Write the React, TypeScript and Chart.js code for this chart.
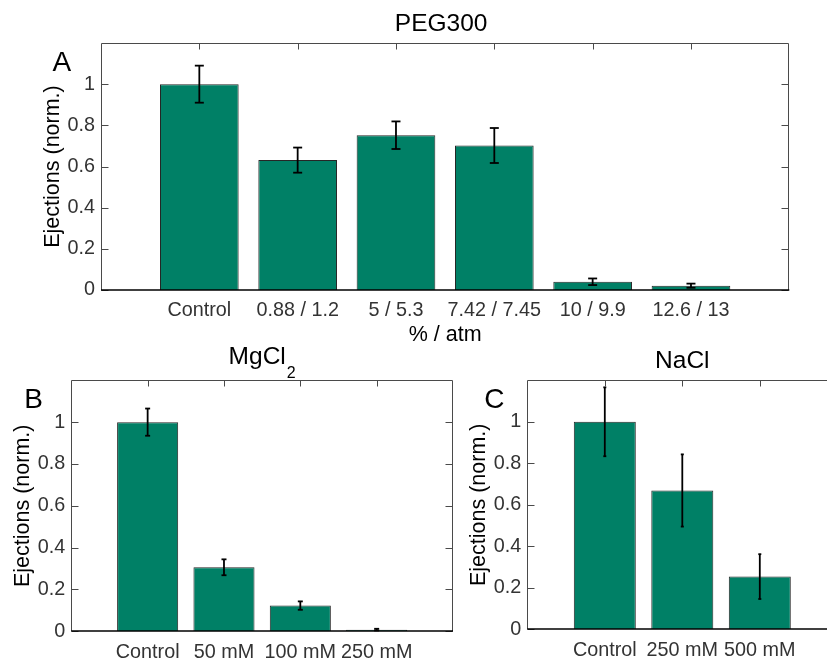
import React, { useEffect, useRef } from "react";
import { Chart, registerables } from "chart.js";

Chart.register(...registerables);

const FONT = "'Liberation Sans', Arial, Helvetica, sans-serif";
const BAR_COLOR = "#008066";
const TICK_COLOR = "#333333";

// ---- Panel A: PEG300 ----
const pegLabels = ["Control", "0.88 / 1.2", "5 / 5.3", "7.42 / 7.45", "10 / 9.9", "12.6 / 13"];
const pegValues = [1.0, 0.631, 0.752, 0.702, 0.04, 0.021];
const pegErrors = [0.09, 0.061, 0.067, 0.085, 0.016, 0.01];

// ---- Panel B: MgCl2 ----
const mgLabels = ["Control", "50 mM", "100 mM", "250 mM"];
const mgValues = [1.0, 0.306, 0.123, 0.008];
const mgErrors = [0.065, 0.038, 0.02, 0.004];

// ---- Panel C: NaCl ----
const naLabels = ["Control", "250 mM", "500 mM"];
const naValues = [1.0, 0.669, 0.254];
const naErrors = [0.166, 0.174, 0.108];

// y tick labels (shared)
const yTicks = [0, 0.2, 0.4, 0.6, 0.8, 1];
const yMax = 1.2;

const CW = 860;
const CH = 720;
const Y_AXIS_W = 62;
const X_AXIS_H = 60;

type Panel = {
  labels: string[];
  values: number[];
  errors: number[];
  box: { left: number; top: number; right: number; bottom: number };
  title: string;
  titleSub?: string;
  titleDx: number;
  letter: string;
  letterDx: number;
  xTitle?: string;
  capHalf: number;
};

const panels: Panel[] = [
  {
    labels: pegLabels,
    values: pegValues,
    errors: pegErrors,
    box: { left: 101, top: 43, right: 789.3, bottom: 290 },
    title: "PEG300",
    titleDx: -4,
    letter: "A",
    letterDx: -48.5,
    xTitle: "% / atm",
    capHalf: 4.5,
  },
  {
    labels: mgLabels,
    values: mgValues,
    errors: mgErrors,
    box: { left: 71.3, top: 380.3, right: 453, bottom: 631.3 },
    title: "MgCl",
    titleSub: "2",
    titleDx: 0,
    letter: "B",
    letterDx: -47,
    capHalf: 2.5,
  },
  {
    labels: naLabels,
    values: naValues,
    errors: naErrors,
    box: { left: 527.3, top: 380.3, right: 837.3, bottom: 629.3 },
    title: "NaCl",
    titleDx: 0,
    letter: "C",
    letterDx: -43,
    capHalf: 1.5,
  },
];

function makePlugin(p: Panel, errs: (number | null)[]) {
  return {
    id: "panelDecor",
    afterDatasetsDraw(chart: any) {
      const { ctx, chartArea: a, scales } = chart;
      const x = scales.x;
      const y = scales.y;
      const line = (x1: number, y1: number, x2: number, y2: number) => {
        ctx.beginPath();
        ctx.moveTo(x1, y1);
        ctx.lineTo(x2, y2);
        ctx.stroke();
      };
      ctx.save();
      // error bars
      const meta = chart.getDatasetMeta(0);
      const data = chart.data.datasets[0].data as (number | null)[];
      ctx.strokeStyle = "#000";
      ctx.lineWidth = 1.8;
      meta.data.forEach((bar: any, i: number) => {
        const v = data[i];
        const e = errs[i];
        if (v == null || e == null) return;
        const cx = bar.x;
        const yt = y.getPixelForValue(v + e);
        const yb = y.getPixelForValue(v - e);
        line(cx, yt, cx, yb);
        line(cx - p.capHalf, yt, cx + p.capHalf, yt);
        line(cx - p.capHalf, yb, cx + p.capHalf, yb);
      });
      // box
      const L = Math.round(a.left) + 0.5;
      const R = Math.round(a.right) - 0.5;
      const T = Math.round(a.top) + 0.5;
      const B = Math.round(a.bottom);
      ctx.strokeStyle = "#4a4a4a";
      ctx.lineWidth = 1;
      ctx.beginPath();
      ctx.moveTo(L, B);
      ctx.lineTo(L, T);
      ctx.lineTo(R, T);
      ctx.lineTo(R, B);
      ctx.stroke();
      // ticks (inside)
      for (let i = 1; i <= p.labels.length; i++) {
        const px = Math.round(x.getPixelForValue(i)) + 0.5;
        line(px, T, px, T + 6);
      }
      y.ticks.forEach((t: any) => {
        const py = Math.round(y.getPixelForValue(t.value)) + 0.5;
        line(L, py, L + 7, py);
        line(R, py, R - 7, py);
      });
      // baseline
      ctx.strokeStyle = "#000";
      ctx.lineWidth = 1.5;
      line(a.left, B, a.right, B);
      ctx.restore();
    },
    afterDraw(chart: any) {
      const { ctx, chartArea: a } = chart;
      ctx.save();
      ctx.fillStyle = "#000";
      const cx = (a.left + a.right) / 2 + p.titleDx;
      ctx.textBaseline = "alphabetic";
      if (p.titleSub) {
        ctx.font = `24.5px ${FONT}`;
        const wm = ctx.measureText(p.title).width;
        ctx.font = `16px ${FONT}`;
        const ws = ctx.measureText(p.titleSub).width;
        const start = cx - (wm + 1 + ws) / 2;
        ctx.textAlign = "left";
        ctx.font = `24.5px ${FONT}`;
        ctx.fillText(p.title, start, a.top - 16);
        ctx.font = `16px ${FONT}`;
        ctx.fillText(p.titleSub, start + wm + 1, a.top - 2.6);
      } else {
        ctx.font = `24.5px ${FONT}`;
        ctx.textAlign = "center";
        ctx.fillText(p.title, cx, a.top - 12);
      }
      ctx.font = `28px ${FONT}`;
      ctx.textAlign = "left";
      ctx.fillText(p.letter, a.left + p.letterDx, a.top + 28);
      ctx.restore();
    },
  };
}

function PanelChart({ p }: { p: Panel }) {
  const ref = useRef<HTMLCanvasElement | null>(null);
  useEffect(() => {
    if (!ref.current) return;
    const labels = ["", ...p.labels, ""];
    const data = [null, ...p.values, null];
    const errs = [null, ...p.errors, null];
    const chart = new Chart(ref.current, {
      type: "bar",
      data: {
        labels,
        datasets: [
          {
            data: data as any,
            backgroundColor: BAR_COLOR,
            borderColor: "#262626",
            borderWidth: 1,
            categoryPercentage: 1,
            barPercentage: 0.8,
          },
        ],
      },
      options: {
        responsive: false,
        animation: false,
        devicePixelRatio: 1,
        events: [],
        layout: {
          padding: {
            left: p.box.left - Y_AXIS_W,
            top: p.box.top,
            right: CW - p.box.right,
            bottom: CH - p.box.bottom - X_AXIS_H,
          },
        },
        plugins: {
          legend: { display: false },
          tooltip: { enabled: false },
        },
        scales: {
          x: {
            type: "category",
            offset: false,
            grid: { display: false, drawTicks: false },
            border: { display: false },
            ticks: {
              autoSkip: false,
              maxRotation: 0,
              minRotation: 0,
              padding: 9,
              color: TICK_COLOR,
              font: { family: FONT, size: 19.8 },
            },
            title: {
              display: !!p.xTitle,
              text: p.xTitle || "",
              color: "#000",
              font: { family: FONT, size: 21.5 },
              padding: { top: 0, bottom: 2 },
            },
            afterFit: (s: any) => {
              s.height = X_AXIS_H;
              s.paddingLeft = 0;
              s.paddingRight = 0;
            },
          },
          y: {
            type: "linear",
            min: 0,
            max: yMax,
            afterBuildTicks: (s: any) => {
              s.ticks = yTicks.map((v) => ({ value: v }));
            },
            grid: { display: false, drawTicks: false },
            border: { display: false },
            ticks: {
              padding: 6,
              color: TICK_COLOR,
              font: { family: FONT, size: 19.8 },
              callback: (v: any) => String(Math.round(Number(v) * 10) / 10),
            },
            title: {
              display: true,
              text: "Ejections (norm.)",
              color: "#000",
              font: { family: FONT, size: 21.5 },
              padding: { top: 1, bottom: 0 },
            },
            afterFit: (s: any) => {
              s.width = Y_AXIS_W;
              s.paddingTop = 0;
              s.paddingBottom = 0;
            },
          },
        },
      },
      plugins: [makePlugin(p, errs)],
    } as any);
    return () => chart.destroy();
  }, [p]);
  return (
    <canvas
      ref={ref}
      width={CW}
      height={CH}
      style={{ position: "absolute", left: 0, top: 0, width: CW, height: CH }}
    />
  );
}

export default function App() {
  return (
    <div
      style={{
        position: "fixed",
        left: 0,
        top: 0,
        width: 827,
        height: 658,
        overflow: "hidden",
        background: "#fff",
      }}
    >
      {panels.map((p, i) => (
        <PanelChart key={i} p={p} />
      ))}
    </div>
  );
}
